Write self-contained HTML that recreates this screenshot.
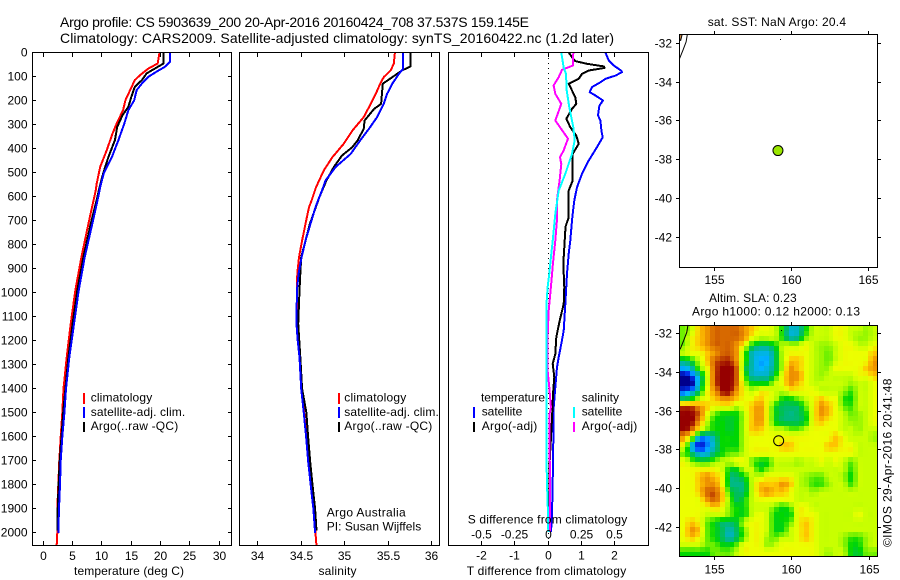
<!DOCTYPE html>
<html lang="en">
<head>
<meta charset="utf-8">
<title>Argo profile 5903639_200</title>
<style>
html,body{margin:0;padding:0;background:#fff;width:900px;height:580px;overflow:hidden}
svg{display:block}
text{font-family:"Liberation Sans",sans-serif;font-size:12px;fill:#000}
.frame{fill:none;stroke:#000;stroke-width:1;shape-rendering:crispEdges}
.sw{shape-rendering:crispEdges}
</style>
</head>
<body>
<svg id="chart" xmlns="http://www.w3.org/2000/svg" width="900" height="580" viewBox="0 0 900 580">
  <rect x="0" y="0" width="900" height="580" fill="#fff"/>
  <text x="60" y="27" style="font-size:14px" textLength="469" lengthAdjust="spacing">Argo profile: CS 5903639_200 20-Apr-2016 20160424_708 37.537S 159.145E</text>
  <text x="60" y="43" style="font-size:14px" textLength="554" lengthAdjust="spacing">Climatology: CARS2009. Satellite-adjusted climatology: synTS_20160422.nc (1.2d later)</text>

  <g id="marks1"></g>
  <g id="marks2"></g>
  <g id="marks3"></g>
  <g id="heat"></g>
  <g id="mapmarks"></g>

  <rect class="frame" x="32.5" y="52.5" width="199" height="493"/>
  <rect class="frame" x="239.5" y="52.5" width="200" height="493"/>
  <rect class="frame" x="448.5" y="52.5" width="200" height="493"/>
  <rect class="frame" x="679.5" y="34.5" width="198" height="233"/>
  <rect class="frame" x="679.5" y="325.5" width="198" height="231"/>
  <g id="axes"></g>

  <text x="74" y="575" textLength="110" lengthAdjust="spacing">temperature (deg C)</text>
  <text x="318.5" y="575" textLength="38" lengthAdjust="spacing">salinity</text>
  <text x="466.7" y="575" textLength="159.5" lengthAdjust="spacing">T difference from climatology</text>
  <text x="467.7" y="523.5" textLength="159.5" lengthAdjust="spacing">S difference from climatology</text>

  <g>
    <rect class="sw" x="83" y="393" width="2" height="11" fill="#f00"/>
    <rect class="sw" x="83" y="407" width="2" height="11" fill="#00f"/>
    <rect class="sw" x="83" y="422" width="2" height="10" fill="#000"/>
    <text x="90.7" y="401.5" textLength="61.5" lengthAdjust="spacing">climatology</text>
    <text x="90.7" y="416" textLength="94.5" lengthAdjust="spacing">satellite-adj. clim.</text>
    <text x="90.7" y="430" textLength="87.5" lengthAdjust="spacing">Argo(..raw -QC)</text>
  </g>
  <g>
    <rect class="sw" x="338" y="393" width="2" height="11" fill="#f00"/>
    <rect class="sw" x="338" y="407" width="2" height="11" fill="#00f"/>
    <rect class="sw" x="338" y="422" width="2" height="10" fill="#000"/>
    <text x="344.3" y="401.5" textLength="62" lengthAdjust="spacing">climatology</text>
    <text x="344.3" y="416" textLength="94.5" lengthAdjust="spacing">satellite-adj. clim.</text>
    <text x="344.3" y="430" textLength="88" lengthAdjust="spacing">Argo(..raw -QC)</text>
  </g>
  <text x="326.7" y="516.7" textLength="79" lengthAdjust="spacing">Argo Australia</text>
  <text x="326.7" y="530.7" textLength="94.5" lengthAdjust="spacing">PI: Susan Wijffels</text>

  <g>
    <text x="481" y="401.7" textLength="64" lengthAdjust="spacing">temperature</text>
    <rect class="sw" x="473" y="407" width="2" height="11" fill="#00f"/>
    <text x="481.7" y="415.7" textLength="40.6" lengthAdjust="spacing">satellite</text>
    <rect class="sw" x="473" y="422" width="2" height="10" fill="#000"/>
    <text x="481.7" y="430" textLength="55.6" lengthAdjust="spacing">Argo(-adj)</text>
    <text x="581.7" y="401.7" textLength="37.3" lengthAdjust="spacing">salinity</text>
    <rect class="sw" x="573" y="407" width="2" height="11" fill="#0ff"/>
    <text x="581.7" y="415.7" textLength="40.6" lengthAdjust="spacing">satellite</text>
    <rect class="sw" x="573" y="422" width="2" height="10" fill="#f0f"/>
    <text x="581.7" y="430" textLength="55.6" lengthAdjust="spacing">Argo(-adj)</text>
  </g>

  <text x="707.7" y="26" textLength="138.3" lengthAdjust="spacing">sat. SST: NaN  Argo: 20.4</text>
  <text x="709" y="302" textLength="87.7" lengthAdjust="spacing">Altim. SLA: 0.23</text>
  <text x="692" y="315.5" textLength="168" lengthAdjust="spacing">Argo h1000: 0.12  h2000: 0.13</text>
  <text transform="translate(891.7,547) rotate(-90)" x="0" y="0" textLength="168.5" lengthAdjust="spacing">©IMOS 29-Apr-2016 20:41:48</text>
</svg>

<script>
// ---------- chart data ----------
const depthTicks = [0,100,200,300,400,500,600,700,800,900,1000,1100,1200,1300,1400,1500,1600,1700,1800,1900,2000];
const tempTicks = [0,5,10,15,20,25,30];
const salTicks = ["34","34.5","35","35.5","36"];
const tDiffTicks = ["-2","-1","0","1","2"];
const sDiffTicks = ["-0.5","-0.25","0","0.25","0.5"];
const lonTicks = [155,160,165];
const latTicks = [-32,-34,-36,-38,-40,-42];

const tempClimDepth = [0,46,67,94,115,157,199,240,296,338,407,476,546,575,713,852,991,1130,1269,1400,1500,1600,1700,1800,1900,2000,2050];
const tempClimValues = [19.8,19.5,17.9,16.5,15.6,14.8,14.0,13.6,12.5,11.8,10.8,9.7,9.1,8.93,7.68,6.49,5.46,4.67,3.99,3.45,3.24,2.96,2.73,2.56,2.39,2.39,2.28];
const tempSatDepth = [0,39,60,80,101,129,157,199,240,296,365,435,504,560,608,713,852,991,1130,1269,1400,1500,1600,1700,1800,1900,2000];
const tempSatValues = [21.6,21.6,20.7,19.3,17.9,16.8,15.9,15.5,14.5,13.8,12.8,11.7,10.3,9.7,9.3,8.36,7.05,6.03,5.24,4.44,3.87,3.6,3.24,2.96,2.85,2.67,2.56];
const tempArgoDepth = [0,46,67,87,115,143,185,226,261,310,365,435,504,560,608,713,852,991,1130,1269,1400,1500,1600,1700,1800,1900,1990];
const tempArgoValues = [20.5,20.5,19.0,17.6,16.8,15.6,15.0,14.5,13.5,12.6,12.2,11.1,10.2,9.6,9.15,8.08,6.83,5.8,5.0,4.27,3.76,3.4,3.1,2.8,2.6,2.45,2.45];

const salClimDepth = [0,47,75,103,130,172,228,269,325,380,436,491,561,616,644,713,783,852,921,991,1130,1269,1400,1500,1600,1700,1800,1900,2000,2050];
const salClimValues = [35.58,35.567,35.53,35.45,35.41,35.36,35.28,35.22,35.09,34.99,34.86,34.76,34.67,34.62,34.59,34.55,34.51,34.475,34.455,34.45,34.46,34.49,34.51,34.535,34.56,34.585,34.615,34.645,34.665,34.675];
const salSatDepth = [0,68,89,130,172,214,269,318,366,422,477,533,575,610,644,713,783,852,921,991,1130,1199,1269,1400,1500,1600,1700,1800,1900,2000];
const salSatValues = [35.675,35.675,35.625,35.55,35.49,35.45,35.375,35.28,35.18,35.07,34.895,34.78,34.74,34.7,34.665,34.607,34.55,34.505,34.47,34.45,34.446,34.46,34.48,34.5,34.53,34.557,34.58,34.61,34.64,34.66];
const salArgoDepth = [0,58,75,103,130,214,235,283,318,366,394,429,477,533,602,713,852,921,991,1130,1269,1400,1500,1600,1700,1800,1900,1990];
const salArgoValues = [35.76,35.76,35.66,35.55,35.44,35.42,35.34,35.23,35.22,35.15,35.09,34.97,34.875,34.79,34.71,34.6,34.5,34.49,34.48,34.465,34.49,34.51,34.56,34.58,34.603,34.63,34.66,34.676];

const dTempSatDepth = [0,33,54,75,82,96,110,124,144,165,179,200,221,262,283,325,353,394,450,505,561,616,672,699,783,838,921,1047,1158,1213,1268,1310,1394,1477,1504,1782,1921,1997];
const dTempSatValues = [1.72,1.82,1.97,2.19,2.22,2.02,1.72,1.57,1.32,1.25,1.42,1.65,1.54,1.5,1.57,1.6,1.64,1.47,1.22,1.02,0.87,0.79,0.74,0.72,0.67,0.62,0.57,0.52,0.47,0.4,0.32,0.27,0.22,0.17,0.17,0.14,0.12,0.09];
const dTempArgoDepth = [0,19,36,47,58,64,75,89,110,130,158,186,214,235,276,311,346,380,422,533,575,686,728,741,810,880,977,1047,1116,1185,1255,1296,1352,1421,1525,1700,1990];
const dTempArgoValues = [0.62,0.72,0.82,1.17,1.67,1.7,1.22,1.02,0.92,0.62,0.72,0.82,0.85,0.72,0.55,0.67,0.85,0.92,0.74,0.74,0.62,0.62,0.52,0.52,0.49,0.46,0.49,0.47,0.35,0.25,0.22,0.14,0.19,0.15,0.12,0.05,0.05];
const dSalSatDepth = [0,61,89,158,228,311,366,422,505,575,672,776,838,921,977,1060,1255,1525,1643,1782,1921,1997];
const dSalSatValues = [0.1,0.117,0.135,0.14,0.16,0.19,0.2,0.18,0.13,0.08,0.055,0.037,0.025,0.01,-0.003,-0.013,-0.013,-0.013,-0.013,-0.008,0,0.002];
const dSalArgoDepth = [0,54,72,103,137,172,214,283,311,359,408,436,464,533,616,700,783,880,977,1074,1185,1324,1394,1477,1504,1997];
const dSalArgoValues = [0.19,0.187,0.105,0.08,0.042,0.055,0.1,0.055,0.09,0.15,0.117,0.09,0.1,0.087,0.067,0.067,0.055,0.037,0.022,0.005,-0.003,-0.003,0.01,0.022,0.012,0.015];

const slaLevels = [
[6,7,9,10,11,11,11,11,10,9,8,8,7,5,2.8,3,5,7,7,7,8,8,7,7,6.5,7],
[6,8,9,10,11,11,11,11,10,8,7,7,7,5,3,3.5,6,7,7,7,8,8,7,6.5,6.5,7],
[6,8,9,10,11,11,11,10,8,5,4,4,5,7,7,7,8,7,6.5,6.5,7,8,8,7,7,8],
[7,8,8,9,10,11,11,10,6,3,2.5,2.5,4,7,8,8,8,7,6.5,6,7,8,8,8,8,9],
[4,5,7,9,11,11.5,11.5,10,6,3,2,2,4,7,9,9,8,7,6.5,6,7,8,8,8,8,10],
[2,3,6,8,11,12,12,11,5,3,2,2.5,4,7,10,9,8,7,6.5,6.5,8,8,8,8,9,10],
[0,1,3,7,11,12,12,11,6,3,3,3,5,8,10,10,8,7,6.5,7,7,7,7,8,8,9],
[0,0,3,7,11,12,12,11,7,5,5,5,7,8,10,9,8,7,7,7,7,7,6.5,7,7,8],
[1,2,4,8,10,12,12,10,8,7,8,8,7,7,8,8,8,8,7,7,7,6.5,5.5,7,7,8],
[4,5,7,8,9,10,10,9,8,8,9,8,7,5,5,6,7,8,9,8,8,5.5,5,7,7,8],
[11,11,10,9,8,8,8,7,8,9,10,8,5,4,4,4,6,8,10,9,8,6,5.5,7,7,8],
[12,12,11,8,6,5,5,5,7,9,10,8,5,4,3.5,4,5,8,10,9,8,7,6,6.5,7,8],
[12,12,10,7,5,5,4.5,5,7,9,10,8,5,4,4,4,5,8,9,8,8,7,6.5,6.5,7,8],
[12,11,8,6,5,5,4.5,5,7,9,9,8,7,7,6,6,7,8,8,8,8,7,7,6.5,7,7],
[10,7,2.5,2,3.5,5,5,5,7,8,8,8,8,8,8,8,8,8,8,8,9,8,7,7,7,6.5],
[8,2.5,0.5,1.5,3,5,5,5,7,8,8,8,8,9,9,8,8,8,8,9,9,8,8,7,7,7],
[6,4,2.5,2.5,4,5,6,6,7,8,8,8,8,8,8,8,8,8,8,8,8,8,8,7,7,7],
[8,6,5,5,6,7,7,8,8,6,5,5,7,7,7,6.5,7,7,8,7,8,7,6,7,7,7],
[8,8,8,8,8,7,5,5,7,7,5,6,7,7,7,7,7,7,7,7,7,7,5.5,7,7,7],
[8,8,9,10,9,8,4,4,5,7,7,8,8,8,8,7,6.5,6,6,7,7,6.5,5,7,7,7],
[8,8,9,10,10,8,4,3.5,4,7,9,9,9,10,9,7,6.5,5.5,5.5,6.5,7,7,5.5,7,7,7],
[8,8,9,11,11,9,5,4,4,7,9,10,9,9,8,7,7,6.5,7,7,7,7,7,7,7,7],
[8,8,8,10,11,9,6,4,5,7,8,8,8,8,8,7,7,7,7,7,7,7,7,7,7,7],
[8,8,8,8,9,8,6,5,5,7,7,7,6,5,6,8,8,7,7,7,7,7,7,7,7,7],
[8,8,8,7,7,7,6,5,5,7,8,7,5,5,5,8,8,8,7,7,7,7,7,8,7,7],
[8,9,8,6,5,4,4,4.5,7,8,8,7,5,5,6,8,9,8,7,7,7,7,7,7,7,7],
[8,10,9,6,5,4,3,4,6,8,8,7,5,5,7,8,9,8,7,7,7,7,7,7,7,7],
[8,9,8,6,5,4,3,4,6,8,8,6.5,6,7,7,8,9,8,7,7,7,6.5,5.5,5.5,6.5,7],
[7,7,7,6,6,5,5,6,8,8,8,6.5,7,8,8,8,8,8,7,7,7,6.5,5,5,6.5,7],
[5,5,5,5,6,6,6,7,8,8,8,8,8,8,8,8,8,8,7,6.5,7,7,5,4.5,6,6]
];
const slaPalette = ["#00008c","#003cff","#00b4ff","#00b4b4","#00be5a","#00d700","#6ef000","#c8ff00","#ecff00","#ffc800","#f09600","#d76900","#960000"];

const coastLon = [152.76,152.99,153.19,153.27];
const coastLat = [-32.81,-32.35,-31.93,-31.55];
const shelfPatchLon = [152.78,152.93,152.84,152.78];
const shelfPatchLat = [-31.55,-31.55,-31.85,-31.85];
const islandLon = [159.3];
const islandLat = [-31.79];
const floatLon = [159.145];
const floatLat = [-37.537];

// ---------- axis functions ----------
const depthY = d => 52.5 + 0.2402 * d;
const tempX = t => 43.3 + 5.867 * t;
const salX = s => 257.8 + 86.8 * (s - 34);
const tDiffX = t => 548 + 33.35 * t;
const sDiffX = s => 548 + 133.4 * s;
const map1X = lon => 714 + 15.43 * (lon - 155);
const map1Y = lat => 43.3 + 19.37 * (-32 - lat);
const map2X = lon => 714.7 + 15.43 * (lon - 155);
const map2Y = lat => 333.6 + 19.35 * (-32 - lat);

// ---------- drawing helpers ----------
const NS = "http://www.w3.org/2000/svg";
function make(parent, tag, attrs) {
  const el = document.createElementNS(NS, tag);
  for (const k in attrs) el.setAttribute(k, attrs[k]);
  parent.appendChild(el);
  return el;
}
function profile(parent, name, depths, values, xFn, color, width) {
  const pts = depths.map((d, i) => xFn(values[i]).toFixed(1) + "," + depthY(d).toFixed(1)).join(" ");
  const el = make(parent, "polyline", {points: pts, fill: "none", stroke: color, "stroke-width": width, "stroke-linejoin": "round", "shape-rendering": "crispEdges"});
  
  
}
function tick(parent, name, x1, y1, x2, y2) {
  const el = make(parent, "line", {x1: x1, y1: y1, x2: x2, y2: y2, stroke: "#000", "stroke-width": 1, "shape-rendering": "crispEdges"});
  
  
}
function label(parent, name, x, y, str, anchor) {
  const el = make(parent, "text", {x: x, y: y, "text-anchor": anchor});
  el.textContent = str;
  
  
}
const snap = v => Math.round(v - 0.5) + 0.5;

// ---------- profile panels ----------
const m1 = document.getElementById("marks1");
profile(m1, "temperature-climatology-line", tempClimDepth, tempClimValues, tempX, "#f00", 2);
profile(m1, "temperature-argo-line", tempArgoDepth, tempArgoValues, tempX, "#000", 2);
profile(m1, "temperature-satellite-line", tempSatDepth, tempSatValues, tempX, "#00f", 2);

const m2 = document.getElementById("marks2");
profile(m2, "salinity-climatology-line", salClimDepth, salClimValues, salX, "#f00", 2);
profile(m2, "salinity-argo-line", salArgoDepth, salArgoValues, salX, "#000", 2);
profile(m2, "salinity-satellite-line", salSatDepth, salSatValues, salX, "#00f", 2);

const m3 = document.getElementById("marks3");
const zeroLine = make(m3, "line", {x1: 548.5, x2: 548.5, y1: 53, y2: 545, stroke: "#000", "stroke-width": 1, "stroke-dasharray": "1 4", "shape-rendering": "crispEdges"});


profile(m3, "t-difference-satellite-line", dTempSatDepth, dTempSatValues, tDiffX, "#00f", 2);
profile(m3, "t-difference-argo-line", dTempArgoDepth, dTempArgoValues, tDiffX, "#000", 2);
profile(m3, "s-difference-argo-line", dSalArgoDepth, dSalArgoValues, sDiffX, "#f0f", 2);
profile(m3, "s-difference-satellite-line", dSalSatDepth, dSalSatValues, sDiffX, "#0ff", 2);

// ---------- axes ----------
const ax = document.getElementById("axes");
depthTicks.forEach(d => {
  const y = snap(depthY(d));
  tick(ax, "depth-tick-left", 33, y, 36, y);
  tick(ax, "depth-tick-right", 228, y, 231, y);
  label(ax, "depth-tick-label", 27.5, y + 3.8, String(d), "end");
});
tempTicks.forEach(t => {
  const x = snap(tempX(t));
  tick(ax, "temperature-tick-top", x, 53, x, 57);
  tick(ax, "temperature-tick-bottom", x, 541, x, 545);
  label(ax, "temperature-tick-label", x, 560, String(t), "middle");
});
salTicks.forEach(s => {
  const x = snap(salX(parseFloat(s)));
  tick(ax, "salinity-tick-top", x, 53, x, 57);
  tick(ax, "salinity-tick-bottom", x, 541, x, 545);
  label(ax, "salinity-tick-label", x, 560, s, "middle");
});
tDiffTicks.forEach(t => {
  const x = snap(tDiffX(parseFloat(t)));
  tick(ax, "t-difference-tick-top", x, 53, x, 57);
  tick(ax, "t-difference-tick-bottom", x, 541, x, 545);
  label(ax, "t-difference-tick-label", x, 559.5, t, "middle");
});
sDiffTicks.forEach(s => {
  label(ax, "s-difference-tick-label", snap(sDiffX(parseFloat(s))), 538.7, s, "middle");
});
lonTicks.forEach(lon => {
  const x1 = snap(map1X(lon));
  const x2 = snap(map2X(lon));
  tick(ax, "sst-lon-tick-top", x1, 31, x1, 34);
  tick(ax, "sst-lon-tick-bottom", x1, 268, x1, 271);
  label(ax, "sst-lon-tick-label", x1, 284, String(lon), "middle");
  tick(ax, "sla-lon-tick-top", x2, 322, x2, 325);
  tick(ax, "sla-lon-tick-bottom", x2, 557, x2, 560);
  label(ax, "sla-lon-tick-label", x2, 573.5, String(lon), "middle");
});
latTicks.forEach(lat => {
  const y1 = snap(map1Y(lat));
  const y2 = snap(map2Y(lat));
  tick(ax, "sst-lat-tick-left", 676, y1, 679, y1);
  tick(ax, "sst-lat-tick-right", 878, y1, 881, y1);
  label(ax, "sst-lat-tick-label", 672, y1 + 3.8, String(lat), "end");
  tick(ax, "sla-lat-tick-left", 676, y2, 679, y2);
  tick(ax, "sla-lat-tick-right", 878, y2, 881, y2);
  label(ax, "sla-lat-tick-label", 672, y2 + 3.8, String(lat), "end");
});

// ---------- heatmap ----------
function hexToRgb(h) {
  return [parseInt(h.slice(1, 3), 16), parseInt(h.slice(3, 5), 16), parseInt(h.slice(5, 7), 16)];
}
function levelColor(v) {
  const c = Math.max(0, Math.min(slaPalette.length - 1, v));
  const i = Math.min(slaPalette.length - 2, Math.floor(c));
  const f = c - i;
  const a = hexToRgb(slaPalette[i]);
  const b = hexToRgb(slaPalette[i + 1]);
  return "rgb(" + a.map((p, k) => Math.round(p + (b[k] - p) * f)).join(",") + ")";
}
const heat = document.getElementById("heat");
const heatLeft = 680, heatTop = 326, heatW = 198, heatH = 231;
const blocksX = 40, blocksY = 46;
const gridRows = slaLevels.length, gridCols = slaLevels[0].length;
function levelAt(r, c) {
  const rr = Math.max(0, Math.min(gridRows - 1, r));
  const cc = Math.max(0, Math.min(gridCols - 1, c));
  return slaLevels[rr][cc];
}
function cubic(a, b, c, d, t) {
  return b + 0.5 * t * (c - a + t * (2 * a - 5 * b + 4 * c - d + t * (3 * (b - c) + d - a)));
}
function sampleRow(r, c0, fu) {
  return cubic(levelAt(r, c0 - 1), levelAt(r, c0), levelAt(r, c0 + 1), levelAt(r, c0 + 2), fu);
}
for (let j = 0; j < blocksY; j++) {
  for (let i = 0; i < blocksX; i++) {
    const u = Math.max(0, Math.min(gridCols - 1.001, (i + 0.5) / blocksX * gridCols - 0.5));
    const w = Math.max(0, Math.min(gridRows - 1.001, (j + 0.5) / blocksY * gridRows - 0.5));
    const c0 = Math.floor(u), r0 = Math.floor(w), fu = u - c0, fw = w - r0;
    const v = cubic(sampleRow(r0 - 1, c0, fu), sampleRow(r0, c0, fu), sampleRow(r0 + 1, c0, fu), sampleRow(r0 + 2, c0, fu), fw);
    const x0 = Math.round(heatLeft + i * heatW / blocksX);
    const x1 = Math.round(heatLeft + (i + 1) * heatW / blocksX);
    const y0 = Math.round(heatTop + j * heatH / blocksY);
    const y1 = Math.round(heatTop + (j + 1) * heatH / blocksY);
    const cell = make(heat, "rect", {x: x0, y: y0, width: x1 - x0, height: y1 - y0, fill: levelColor(v), "shape-rendering": "crispEdges"});
    
    
  }
}

// ---------- map overlays ----------
const mm = document.getElementById("mapmarks");
function polyline(name, lons, lats, xFn, yFn, fill, stroke) {
  const pts = lons.map((lon, i) => xFn(lon).toFixed(1) + "," + yFn(lats[i]).toFixed(1)).join(" ");
  const el = make(mm, fill === "none" ? "polyline" : "polygon", {points: pts, fill: fill, stroke: stroke, "stroke-width": 1});
  
  
}
polyline("sst-shelf-patch", shelfPatchLon, shelfPatchLat, map1X, map1Y, "#ffb060", "#000");
polyline("sst-coastline", coastLon, coastLat, map1X, map1Y, "none", "#000");
polyline("sla-coastline", coastLon, coastLat, map2X, map2Y, "none", "#000");
islandLon.forEach((lon, i) => {
  const d1 = make(mm, "rect", {x: Math.round(map1X(lon)), y: Math.round(map1Y(islandLat[i])), width: 1, height: 1, fill: "#000"});
  
  
  const d2 = make(mm, "rect", {x: Math.round(map2X(lon)), y: Math.round(map2Y(islandLat[i])), width: 1, height: 1, fill: "#000"});
  
  
});
floatLon.forEach((lon, i) => {
  const c1 = make(mm, "circle", {cx: map1X(lon), cy: map1Y(floatLat[i]), r: 5, fill: "#9ae600", stroke: "#000", "stroke-width": 1});
  
  
  const c2 = make(mm, "circle", {cx: map2X(lon), cy: map2Y(floatLat[i]), r: 5, fill: "none", stroke: "#000", "stroke-width": 1});
  
  
});
</script>
</body>
</html>
